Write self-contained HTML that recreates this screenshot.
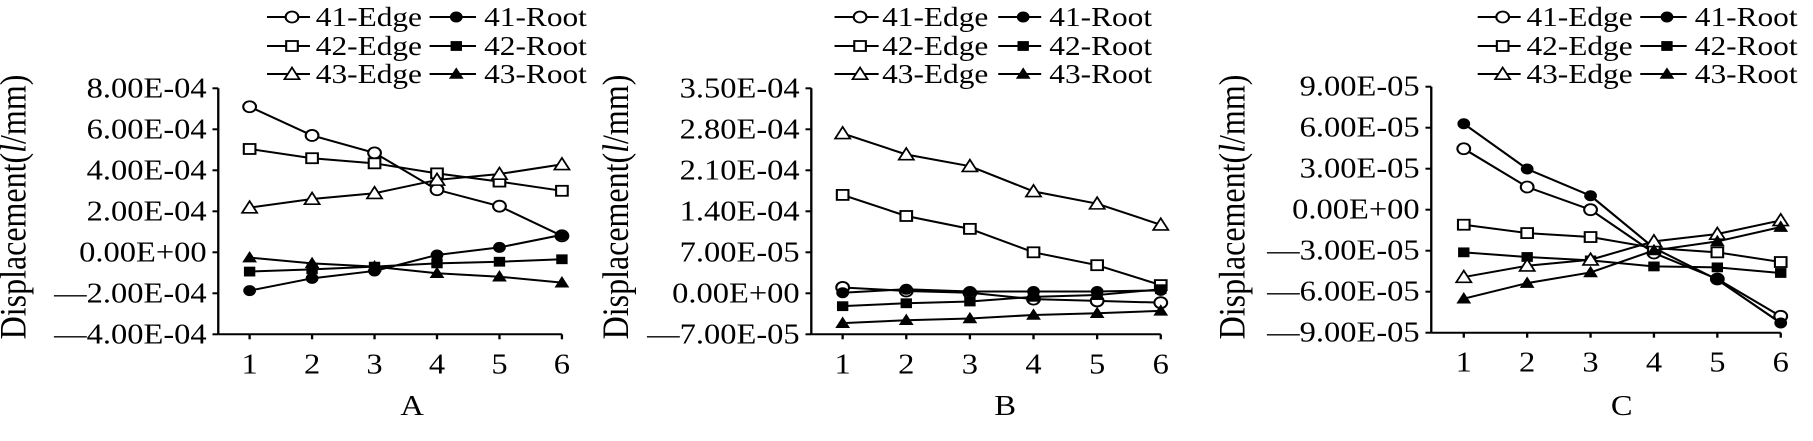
<!DOCTYPE html>
<html><head><meta charset="utf-8"><style>
html,body{margin:0;padding:0;background:#fff;}
svg{display:block;font-family:"Liberation Serif",serif;}
</style></head><body>
<svg id="chart" width="1813" height="441" viewBox="0 0 1813 441" xmlns="http://www.w3.org/2000/svg"></svg>
<script>
const categories = [1,2,3,4,5,6];
const seriesNames = ["41-Edge","41-Root","42-Edge","42-Root","43-Edge","43-Root"];
// Panel A (units 1e-4)
const aEdge41 = [7.1,5.7,4.85,3.05,2.25,0.8];
const aRoot41 = [-1.87,-1.27,-0.91,-0.13,0.24,0.85];
const aEdge42 = [5.04,4.59,4.34,3.85,3.45,3.0];
const aRoot42 = [-0.94,-0.83,-0.70,-0.54,-0.46,-0.34];
const aEdge43 = [2.18,2.6,2.88,3.53,3.82,4.29];
const aRoot43 = [-0.26,-0.54,-0.70,-1.02,-1.19,-1.48];
const aTicks = [8,6,4,2,0,-2,-4];
const aTickLabels = ["8.00E-04","6.00E-04","4.00E-04","2.00E-04","0.00E+00","—2.00E-04","—4.00E-04"];
// Panel B (units 1e-4)
const bEdge41 = [0.10,0.04,0.01,-0.10,-0.13,-0.16];
const bRoot41 = [0.01,0.07,0.03,0.03,0.03,0.05];
const bEdge42 = [1.68,1.32,1.10,0.70,0.48,0.14];
const bRoot42 = [-0.22,-0.17,-0.14,-0.06,-0.03,0.07];
const bEdge43 = [2.73,2.37,2.17,1.74,1.53,1.17];
const bRoot43 = [-0.51,-0.46,-0.43,-0.37,-0.34,-0.30];
const bTicks = [3.5,2.8,2.1,1.4,0.7,0,-0.7];
const bTickLabels = ["3.50E-04","2.80E-04","2.10E-04","1.40E-04","7.00E-05","0.00E+00","—7.00E-05"];
// Panel C (units 1e-5)
const cEdge41 = [4.46,1.66,0,-3.17,-5.07,-7.80];
const cRoot41 = [6.29,2.98,1.02,-2.80,-5.12,-8.29];
const cEdge42 = [-1.10,-1.71,-2.0,-2.80,-3.12,-3.83];
const cRoot42 = [-3.12,-3.46,-3.71,-4.15,-4.22,-4.63];
const cEdge43 = [-4.93,-4.10,-3.66,-2.32,-1.78,-0.78];
const cRoot43 = [-6.51,-5.37,-4.59,-2.98,-2.32,-1.27];
const cTicks = [9,6,3,0,-3,-6,-9];
const cTickLabels = ["9.00E-05","6.00E-05","3.00E-05","0.00E+00","—3.00E-05","—6.00E-05","—9.00E-05"];

const NS="http://www.w3.org/2000/svg";
const svg=document.getElementById('chart');
const SX=1.161;
function mk(tag,attrs,parent){const e=document.createElementNS(NS,tag);for(const k in attrs)e.setAttribute(k,attrs[k]);(parent||svg).appendChild(e);return e;}
function marker(g,type,x,y){
  let e;
  const open=type.indexOf("Edge")>=0;
  const shape=type.slice(0,2);
  const fill=open?"#fff":"#000";
  if(shape==="41"){e=mk('circle',{cx:x,cy:y,r:open?5.5:4.6,fill:fill,stroke:"#000","stroke-width":1.8},g);}
  else if(shape==="42"){const s=open?10:8;e=mk('rect',{x:x-s/2,y:y-s/2,width:s,height:s,fill:fill,stroke:"#000","stroke-width":1.8},g);}
  else{const s=open?6.5:5;e=mk('polygon',{points:`${x},${y-s} ${x-s},${y+s*0.8} ${x+s},${y+s*0.8}`,fill:fill,stroke:"#000","stroke-width":1.6},g);}
  
  
}
function panel(cfg){
  const g=mk('g',{transform:`translate(${cfg.off},0) scale(${SX},1) translate(${-cfg.off},0)`});
  
  
  const yScale=v=>cfg.y0+(cfg.ticks[0]-v)/(cfg.ticks[0]-cfg.ticks[cfg.ticks.length-1])*(cfg.y1-cfg.y0);
  const xScale=c=>cfg.px0+(c-1)*(cfg.px1-cfg.px0)/(categories.length-1);
  const ya=mk('line',{x1:cfg.ax0,y1:cfg.y0,x2:cfg.ax0,y2:cfg.y1,stroke:"#000","stroke-width":2},g);
  
  const xa=mk('line',{x1:cfg.ax0,y1:cfg.y1,x2:cfg.px1,y2:cfg.y1,stroke:"#000","stroke-width":2},g);
  
  cfg.ticks.forEach((t,i)=>{
    const y=yScale(t);
    mk('line',{x1:cfg.ax0-5,y1:y,x2:cfg.ax0,y2:y,stroke:"#000","stroke-width":2},g);
    const tx=mk('text',{x:cfg.ax0-10,y:y+9,"text-anchor":"end","font-size":28},g);
    tx.textContent=cfg.tickLabels[i];
    
  });
  categories.forEach(c=>{
    const x=xScale(c);
    mk('line',{x1:x,y1:cfg.y1,x2:x,y2:cfg.y1+5,stroke:"#000","stroke-width":2},g);
    const tx=mk('text',{x:x,y:cfg.y1+39,"text-anchor":"middle","font-size":28},g);
    tx.textContent=c;
    
  });
  const xl=mk('text',{x:cfg.letterX,y:415,"text-anchor":"middle","font-size":28},g);
  xl.textContent=cfg.letter;
  
  const yl=mk('text',{x:0,y:0,"text-anchor":"middle","font-size":32,transform:`translate(${cfg.ytX},207) rotate(-90)`},g);
  yl.innerHTML='Displacement(<tspan font-style="italic">l</tspan>/mm)';
  
  cfg.series.forEach((vals,si)=>{
    const name=seriesNames[si];
    const sg=mk('g',{},g);
    
    
    const pts=vals.map((v,i)=>xScale(categories[i])+','+yScale(v)).join(' ');
    mk('polyline',{points:pts,fill:"none",stroke:"#000","stroke-width":2},sg);
    vals.forEach((v,i)=>marker(sg,name,xScale(categories[i]),yScale(v)));
  });
  const lg=mk('g',{},g);
  
  const rows=[17,46,74];
  seriesNames.forEach((n,i)=>{
    const col=i%2,row=Math.floor(i/2);
    const y=rows[row];
    const le=mk('g',{},lg);
    
    const l0=cfg.leg[col][0],l1=cfg.leg[col][1];
    mk('line',{x1:l0,y1:y,x2:l1,y2:y,stroke:"#000","stroke-width":2},le);
    marker(le,n,(l0+l1)/2+3,y);
    const t=mk('text',{x:cfg.leg[col][2],y:y+9,"font-size":27},le);
    t.textContent=n;
  });
}
panel({off:0,letter:"A",letterX:355,ytX:22,ax0:188,px0:215,px1:484,y0:88.3,y1:334.3,ticks:aTicks,tickLabels:aTickLabels,
  series:[aEdge41,aRoot41,aEdge42,aRoot42,aEdge43,aRoot43],leg:[[230,267,272],[370,410,417]]});
panel({off:600,letter:"B",letterX:949,ytX:624,ax0:782,px0:809,px1:1083,y0:88.3,y1:334.3,ticks:bTicks,tickLabels:bTickLabels,
  series:[bEdge41,bRoot41,bEdge42,bRoot42,bEdge43,bRoot43],leg:[[802,840,843],[943,980,987]]});
panel({off:1213,letter:"C",letterX:1565,ytX:1240,ax0:1401,px0:1429,px1:1702,y0:86.7,y1:332.7,ticks:cTicks,tickLabels:cTickLabels,
  series:[cEdge41,cRoot41,cEdge42,cRoot42,cEdge43,cRoot43],leg:[[1441,1478,1483],[1581,1621,1628]]});
</script>
</body></html>
